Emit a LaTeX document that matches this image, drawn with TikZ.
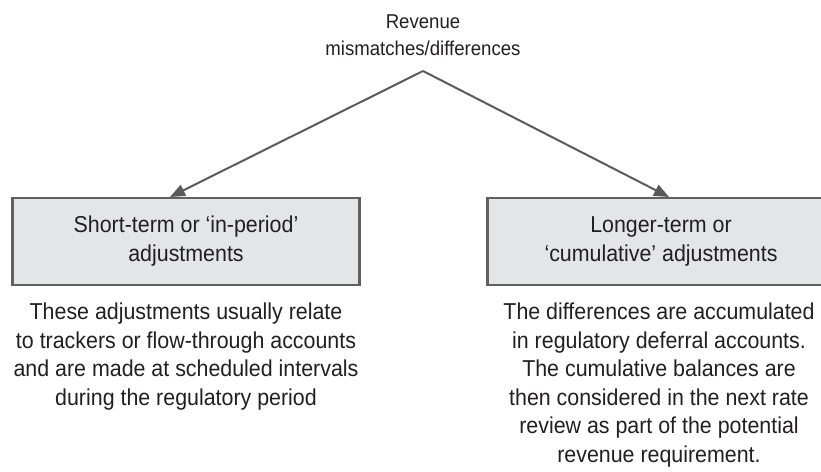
\documentclass[tikz,border=0pt]{standalone}
\usepackage{fontspec}
\setmainfont{Liberation Sans}[FakeStretch=0.93]
\usetikzlibrary{arrows.meta}
\definecolor{txt}{HTML}{231F20}
\definecolor{boxfill}{HTML}{E4E5E6}
\definecolor{boxline}{HTML}{606060}
\definecolor{arrowc}{HTML}{5A5A5A}
\tikzset{
  toptext/.style={anchor=north, inner sep=0pt, align=center, text=txt,
    font=\fontsize{20}{27}\selectfont},
  catbox/.style={draw=boxline, line width=2.6pt, fill=boxfill, text=txt,
    minimum width=347pt, minimum height=87pt, inner sep=0pt, align=center,
    font=\fontsize{23}{29}\selectfont},
  desc/.style={anchor=north, inner sep=0pt, align=center, text=txt,
    font=\fontsize{23}{28.5}\selectfont},
  branch/.style={draw=arrowc, line width=2pt,
    -{Triangle[length=15pt,width=12pt]}, shorten >=0pt}
}
\begin{document}
\begin{tikzpicture}[x=1pt, y=-1pt]
\useasboundingbox (0,0) rectangle (821,471);
\node[toptext] (top) at (423,15) {Revenue\\mismatches/differences};
\coordinate (apex) at (423,71);
\node[catbox] (short) at (186,241.5) {Short-term or ‘in-period’\\adjustments};
\node[catbox] (long) at (661,241.5) {Longer-term or\\‘cumulative’ adjustments};
\coordinate (tipL) at (170,197);
\coordinate (tipR) at (669,197);
\draw[branch] (apex) -- (tipL);
\draw[branch] (apex) -- (tipR);
\node[desc] (shortdesc) at (186,303) {These adjustments usually relate\\to trackers or flow-through accounts\\and are made at scheduled intervals\\during the regulatory period};
\node[desc] (longdesc) at (659,303) {The differences are accumulated\\in regulatory deferral accounts.\\The cumulative balances are\\then considered in the next rate\\review as part of the potential\\revenue requirement.};
\end{tikzpicture}
\end{document}
